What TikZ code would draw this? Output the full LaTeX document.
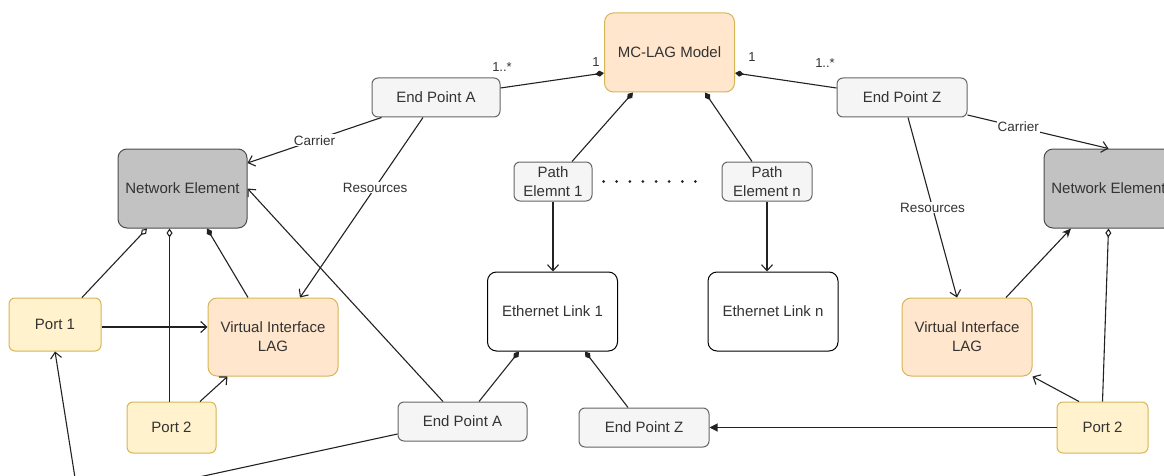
\documentclass[tikz,border=0pt]{standalone}
\usepackage{fontspec}
\setmainfont{Liberation Sans}
\usepackage{tikz}
\usetikzlibrary{arrows.meta,positioning}
\definecolor{LagFill}{HTML}{FFE6CC}
\definecolor{LagLine}{HTML}{D6B656}
\definecolor{PortFill}{HTML}{FFF2CC}
\definecolor{EpFill}{HTML}{F5F5F5}
\definecolor{EpLine}{HTML}{666666}
\definecolor{NeFill}{HTML}{C2C2C2}
\definecolor{NeLine}{HTML}{4D4D4D}
\definecolor{TextGray}{HTML}{333333}
\definecolor{EdgeGray}{HTML}{222222}

\tikzset{
	basebox/.style={draw, rounded corners=6pt, inner sep=0pt, align=center, text=TextGray, font=\fontsize{15}{19}\selectfont, line width=1pt},
	lagbox/.style={basebox, fill=LagFill, draw=LagLine, minimum width=130pt, minimum height=79pt, rounded corners=9pt},
	nebox/.style={basebox, fill=NeFill, draw=NeLine, minimum width=129pt, minimum height=79pt, rounded corners=9pt},
	linkbox/.style={basebox, fill=white, draw=black, minimum width=130pt, minimum height=79pt, rounded corners=9pt},
	epbox/.style={basebox, fill=EpFill, draw=EpLine, minimum width=129pt, minimum height=39pt},
	portbox/.style={basebox, fill=PortFill, draw=LagLine, minimum width=89pt, minimum height=51pt},
	conn/.style={draw=EdgeGray, line width=1.1pt},
	arr/.style={conn, -{Straight Barb[length=6pt,width=11pt]}},
	comp/.style={conn, -{Diamond[length=9pt,width=6pt]}},
	agg/.style={conn, -{Diamond[length=9pt,width=6pt,fill=white]}},
	blk/.style={conn, -{Triangle[length=8pt,width=8pt]}},
	stl/.style={conn, -{Stealth[length=9pt,width=8pt]}},
	dotline/.style={draw=EdgeGray, line width=3pt, line cap=round, dash pattern=on 0pt off 13.125pt, shorten <=11pt, shorten >=14pt},
	lbl/.style={fill=white, inner sep=1pt, text=TextGray, font=\fontsize{13.5}{16}\selectfont},
	mult/.style={inner sep=0pt, text=TextGray, font=\fontsize{13}{15}\selectfont}
}

\begin{document}
\begin{tikzpicture}[x=1pt, y=-1pt]
		\useasboundingbox (0,0) rectangle (1164,476);
		\clip (0,0) rectangle (1164,476);
		\node[lagbox] (mclag) at (669.5,52.5) {MC-LAG Model};
		\node[epbox, minimum width=128pt] (epa) at (436,97.5) {End Point A};
		\node[epbox, minimum width=130pt] (epz) at (902,97.5) {End Point Z};
		\node[nebox] (neL) at (182.5,188.5) {Network Element};
		\node[nebox] (neR) at (1108.5,188.5) {Network Element};
		\node[epbox, minimum width=78pt] (pe1) at (553,181.5) {Path\\Elemnt 1};
		\node[epbox, minimum width=90pt] (pen) at (767,181.5) {Path\\Element n};
		\node[linkbox] (eth1) at (552.5,311.5) {Ethernet Link 1};
		\node[linkbox] (ethn) at (773,311.5) {Ethernet Link n};
		\node[epbox] (epa2) at (462.5,421.5) {End Point A};
		\node[epbox, minimum width=130pt] (epz2) at (644,427.5) {End Point Z};
		\node[portbox, minimum width=92pt, minimum height=53pt] (port1) at (55,324.5) {Port 1};
		\node[lagbox, minimum height=78pt] (vilL) at (273,337) {Virtual Interface\\LAG};
		\node[portbox] (port2L) at (171.5,427.5) {Port 2};
		\node[lagbox, minimum height=78pt] (vilR) at (967,337) {Virtual Interface\\LAG};
		\node[portbox, minimum width=91pt] (port2R) at (1102.5,427.5) {Port 2};
		\node[mult] (m1) at (502,67) {1..*};
		\node[mult] (m2) at (596,62) {1};
		\node[mult] (m3) at (752,57) {1};
		\node[mult] (m4) at (825,63) {1..*};
		\coordinate (bendA) at (79,503);
		\draw[comp] ([yshift=9.5pt]epa.east) -- ([yshift=-20.5pt]mclag.west);
		\draw[comp] ([yshift=9.5pt]epz.west) -- ([yshift=-20.5pt]mclag.east);
		\draw[comp] ([xshift=19pt]pe1.north) -- ([xshift=-36.5pt]mclag.south);
		\draw[comp] ([xshift=-15pt]pen.north) -- ([xshift=35.5pt]mclag.south);
		\draw[arr] (pe1.south) -- (pe1.south |- eth1.north);
		\draw[arr] (pen.south) -- (pen.south |- ethn.north);
		\draw[dotline] (pe1.east) -- (pen.west);
		\draw[arr] ([xshift=10pt]epa.south west) -- node[lbl] (carA) {Carrier} ([yshift=25.5pt]neL.east);
		\draw[arr] ([xshift=-13pt]epa.south) -- node[lbl, pos=0.39] (resA) {Resources} ([xshift=27pt]vilL.north);
		\draw[arr] ([xshift=6pt]epz.south) -- node[lbl] (resZ) {Resources} ([xshift=-10pt]vilR.north);
		\draw[arr] ([yshift=-17.5pt]epz.east) -- node[lbl, pos=0.36] (carZ) {Carrier} (neR.north);
		\draw[agg] ([xshift=27pt]port1.north) -- ([xshift=-35.5pt]neL.south);
		\draw[agg] ([xshift=-2pt]port2L.north) -- ([xshift=-2pt]port2L.north |- neL.south);
		\draw[comp] ([xshift=-25pt]vilL.north) -- ([xshift=24.5pt]neL.south);
		\draw[arr] ([yshift=-2.5pt]port1.east) -- ([yshift=-2.5pt]port1.east -| vilL.west);
		\draw[arr] ([xshift=28.5pt]port2L.north) -- ([xshift=20pt]vilL.south west);
		\draw[arr] ([xshift=-19.5pt]epa2.north) -- (neL.east);
		\draw[comp] ([xshift=16.5pt]epa2.north) -- ([xshift=-33.5pt]eth1.south);
		\draw[comp] ([xshift=-16pt]epz2.north) -- ([xshift=32.5pt]eth1.south);
		\draw[blk] (port2R.west) -- (epz2.east);
		\draw[arr] ([xshift=-23.5pt]port2R.north) -- (vilR.south east);
		\draw[stl] ([xshift=39pt]vilR.north) -- ([xshift=-37.5pt]neR.south);
		\draw[agg] (port2R.north) -- (neR.south);
		\draw[arr] ([yshift=-12.5pt]epa2.west) -- (bendA) -- (port1.south);
	\end{tikzpicture}
\end{document}
